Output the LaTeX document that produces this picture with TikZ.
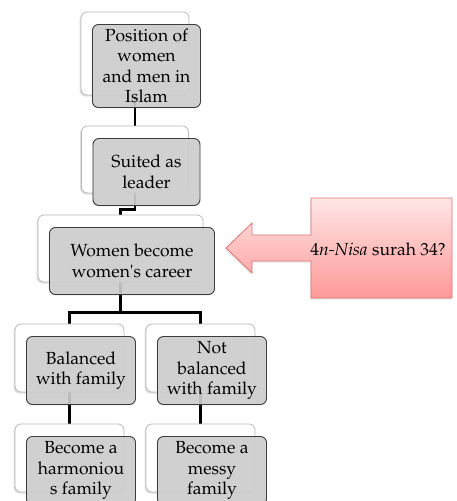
\documentclass[tikz,border=0pt]{standalone}
\usepackage[T1]{fontenc}
\usepackage{mathpazo}
\usetikzlibrary{shadows}
\usetikzlibrary{backgrounds}
\definecolor{boxgray}{RGB}{206,206,206}
\definecolor{boxline}{RGB}{60,60,60}
\definecolor{backline}{RGB}{185,185,185}
\definecolor{calltop}{RGB}{255,230,230}
\definecolor{callbot}{RGB}{255,152,152}
\definecolor{callline}{RGB}{222,118,118}
\tikzset{backbox/.style = {draw=backline, fill=white, rounded corners=6pt, line width=0.8pt,
    drop shadow={shadow xshift=-1.5pt, shadow yshift=-1.5pt, opacity=0.25}}}
\tikzset{frontbox/.style = {draw=boxline, fill=boxgray, fill opacity=0.9, text opacity=1,
    rounded corners=6pt, line width=0.9pt, align=center, inner sep=0,
    drop shadow={shadow xshift=-1pt, shadow yshift=-1pt, opacity=0.15}}}
\tikzset{conn/.style = {line width=2.8pt, black}}
\tikzset{callout/.style = {draw=callline, line width=0.8pt, top color=calltop, bottom color=callbot,
    drop shadow={shadow xshift=-1pt, shadow yshift=-1.5pt, opacity=0.2}}}

\begin{document}
\begin{tikzpicture}[x=1pt, y=-1pt, font=\fontsize{17.5}{20.5}\selectfont]
  \useasboundingbox (0,0) rectangle (456,501);
  \clip (0,0) rectangle (456,501);
  \foreach \nm/\x/\y/\w/\h/\txt in {
      pos/135/53.5/108/83/{Position of\\women\\and men in\\Islam},
      suit/135/159.5/107/67/{Suited as\\leader},
      career/120.5/248.5/165/67/{Women become\\women\textquotesingle s career},
      bal/69.5/358/109/68/{Balanced\\with family},
      nbal/200.5/358/109/68/{Not\\balanced\\with family},
      harm/69.5/458/109/68/{Become a\\harmoniou\\s family},
      messy/200.5/458/109/68/{Become a\\messy\\family}} {
    \node [backbox, minimum width=\w pt, minimum height=\h pt] (\nm) at (\x, \y) {};
    \node [frontbox, minimum width=\w pt, minimum height=\h pt] (\nm-f) at (\x+11.5, \y+12.5) {\txt};
  }
  % connectors behind the boxes
  \begin{scope}[on background layer]
    \draw [conn] (pos.center) -- (suit.center);
    \draw [conn] (suit.center) |- ([yshift=5pt]career.north) -- (career.center);
    \draw [conn] (career.center) |- ([yshift=11pt]bal.north) -- (bal.center);
    \draw [conn] (career.center) |- ([yshift=11pt]nbal.north) -- (nbal.center);
    \draw [conn] (bal.center) -- (harm.center);
    \draw [conn] (nbal.center) -- (messy.center);
  \end{scope}
  % pink arrow callout
  \path [callout] (311,198) -- (452,198) -- (452,298) -- (311,298) -- (311,261) -- (252,261)
    -- (252,273) -- (226,248) -- (252,223) -- (252,235) -- (311,235) -- cycle;
  \node (ayat) at (378,249) {4\textit{n-Nisa} surah 34?};
\end{tikzpicture}
\end{document}
